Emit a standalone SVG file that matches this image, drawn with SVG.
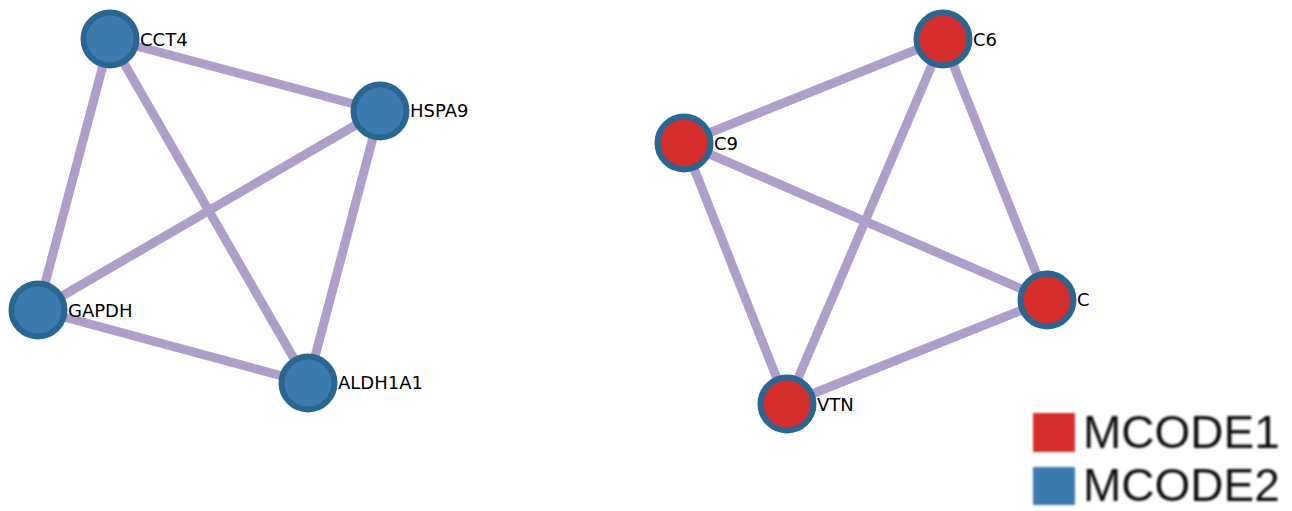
<svg xmlns="http://www.w3.org/2000/svg" width="1292" height="511" viewBox="0 0 1292 511">
<style>
.e{stroke:#ad9fca;stroke-width:9;fill:none}
.b{fill:#3d7aad;stroke:#2a6692;stroke-width:6}
.r{fill:#d62d2d;stroke:#2a6692;stroke-width:6}
.l{font-family:"DejaVu Sans",sans-serif;font-size:18px;fill:#000}
.lg{font-family:"Liberation Sans",Arial,sans-serif;font-size:46px;fill:#111}
</style>
<defs><filter id="bl"><feGaussianBlur stdDeviation="0.9"/></filter></defs>
<rect width="1292" height="511" fill="#fff"/>
<g id="connectors">
<line class="e" x1="110" y1="39" x2="380" y2="111"/>
<line class="e" x1="110" y1="39" x2="38" y2="310"/>
<line class="e" x1="110" y1="39" x2="308" y2="383"/>
<line class="e" x1="380" y1="111" x2="38" y2="310"/>
<line class="e" x1="380" y1="111" x2="308" y2="383"/>
<line class="e" x1="38" y1="310" x2="308" y2="383"/>
<line class="e" x1="943" y1="39" x2="684" y2="143"/>
<line class="e" x1="943" y1="39" x2="787" y2="404"/>
<line class="e" x1="943" y1="39" x2="1047" y2="300"/>
<line class="e" x1="684" y1="143" x2="1047" y2="300"/>
<line class="e" x1="684" y1="143" x2="787" y2="404"/>
<line class="e" x1="787" y1="404" x2="1047" y2="300"/>
</g>
<g id="CCT4"><circle class="b" cx="110" cy="39" r="26.5"/><text class="l" x="140" y="46">CCT4</text></g>
<g id="HSPA9"><circle class="b" cx="380" cy="111" r="26.5"/><text class="l" x="410" y="117">HSPA9</text></g>
<g id="GAPDH"><circle class="b" cx="38" cy="310" r="26.5"/><text class="l" x="68" y="317">GAPDH</text></g>
<g id="ALDH1A1"><circle class="b" cx="308" cy="383" r="26.5"/><text class="l" x="338" y="389">ALDH1A1</text></g>
<g id="C6"><circle class="r" cx="943" cy="39" r="26.5"/><text class="l" x="973" y="46">C6</text></g>
<g id="C9"><circle class="r" cx="684" cy="143" r="26.5"/><text class="l" x="714" y="150">C9</text></g>
<g id="C"><circle class="r" cx="1047" cy="300" r="26.5"/><text class="l" x="1077" y="306">C</text></g>
<g id="VTN"><circle class="r" cx="787" cy="404" r="26.5"/><text class="l" x="817" y="411">VTN</text></g>
<g id="legend" filter="url(#bl)">
<rect x="1033" y="413" width="42" height="39" fill="#d62d2d"/>
<rect x="1033" y="467" width="42" height="38" fill="#3d7aad"/>
<text class="lg" x="1083" y="448">MCODE1</text>
<text class="lg" x="1083" y="501">MCODE2</text>
</g>
</svg>
